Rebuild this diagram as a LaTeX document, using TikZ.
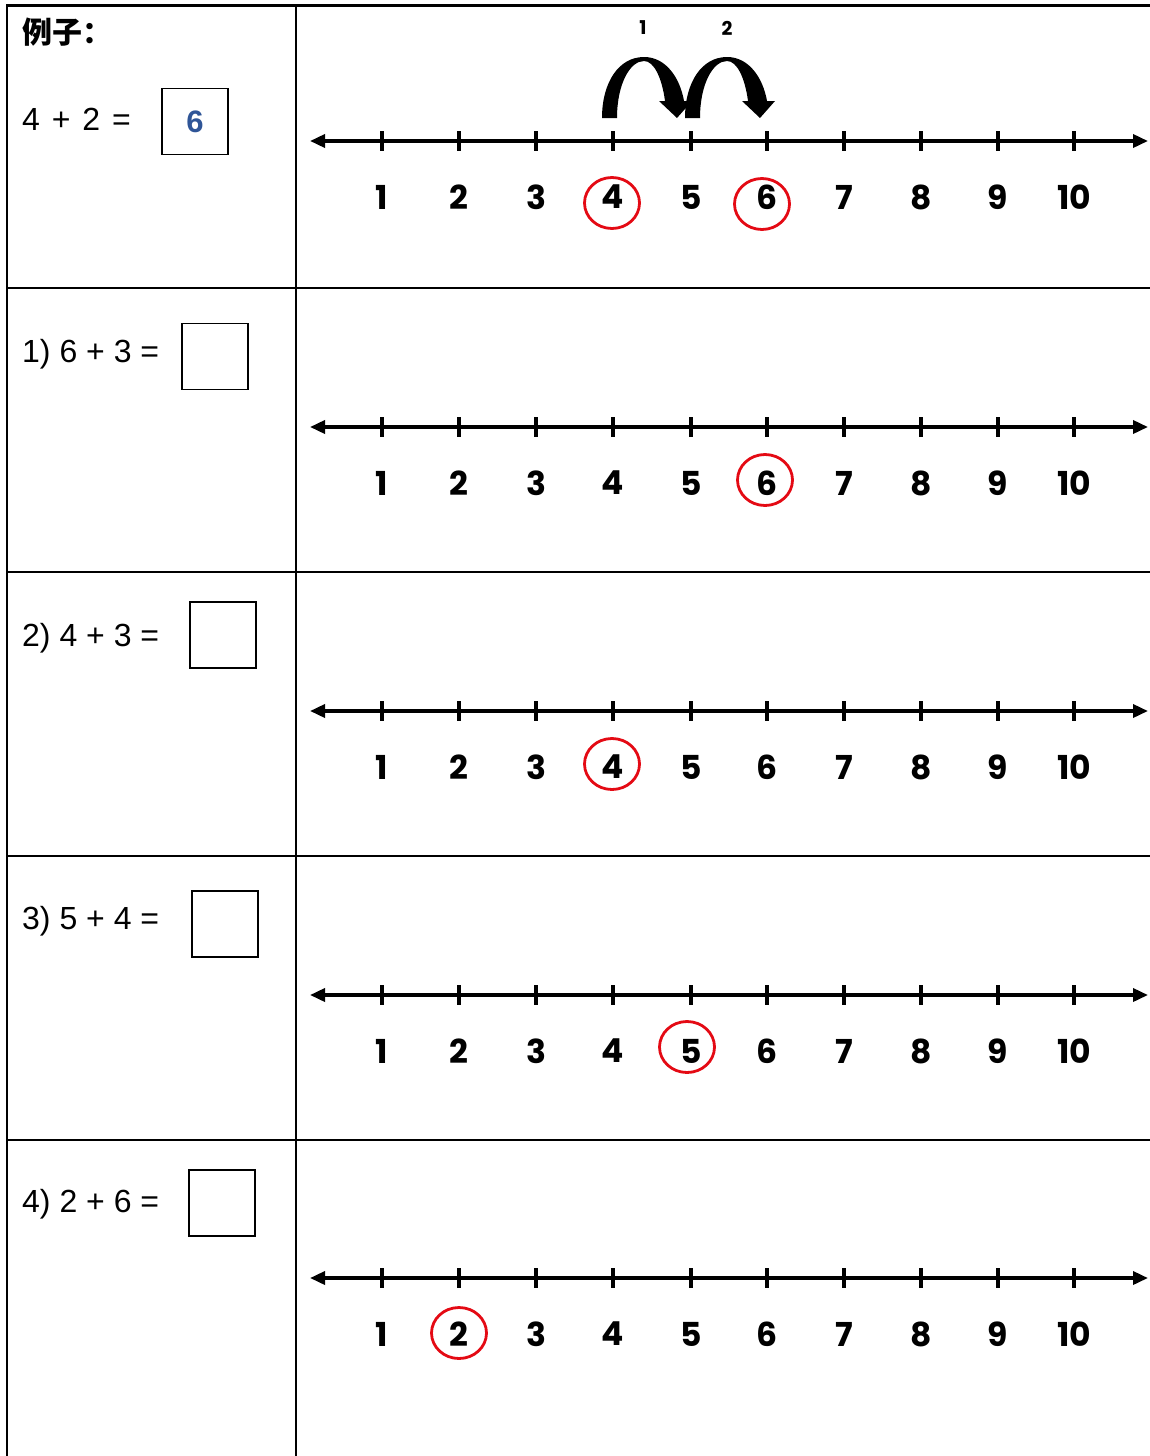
\documentclass[tikz,border=0pt]{standalone}
\usepackage{fontspec}
\setmainfont{Liberation Sans}
\newfontfamily\numfont{Poppins}
\newfontfamily\cjkfont{Noto Sans CJK SC}
\usetikzlibrary{arrows.meta,shapes.geometric}
\definecolor{ansblue}{RGB}{47,85,151}
\definecolor{ringred}{RGB}{228,10,20}
\tikzset{
  grid/.style={line width=2pt,black},
  topline/.style={line width=3pt,black},
  numline/.style={line width=3.5pt,black,{Triangle[length=15pt,width=13pt]}-{Triangle[length=15pt,width=13pt]}},
  tickmark/.style={line width=3.5pt,black},
  numlabel/.style={inner sep=0pt,font=\numfont\bfseries\fontsize{33}{36}\selectfont},
  ring/.style={ellipse,draw=ringred,line width=2.8pt,minimum width=55pt,minimum height=51pt,inner sep=0pt},
  ansbox/.style={draw,line width=1.5pt,minimum width=66pt,minimum height=66pt,inner sep=0pt},
  eqtext/.style={anchor=base west,inner sep=0pt,font=\fontsize{32}{36}\selectfont},
  jumplabel/.style={inner sep=0pt,font=\numfont\bfseries\fontsize{19}{22}\selectfont},
  jump/.style={fill=black,draw=none}
}
\begin{document}
\begin{tikzpicture}[x=1pt,y=-1pt]
\useasboundingbox (0,0) rectangle (1150,1456);
% table
\draw[topline] (7,5) -- (1150,5);
\foreach \yy in {288,572,856,1140} \draw[grid] (7,\yy) -- (1150,\yy);
\draw[grid] (7,4) -- (7,1456);
\draw[grid] (296,4) -- (296,1456);

% number lines
\foreach \r/\yy in {0/141,1/427,2/711,3/995,4/1278}{
  \coordinate (L\r) at (310,\yy);
  \coordinate (R\r) at (1148,\yy);
  \draw[numline] (L\r) -- (R\r);
  \foreach \i/\xx in {1/382,2/459,3/536,4/613,5/691,6/767,7/844,8/921,9/998,10/1074}{
    \coordinate (t\r a\i) at (\xx,\yy-10);
    \coordinate (t\r b\i) at (\xx,\yy+10);
    \draw[tickmark] (t\r a\i) -- (t\r b\i);
    \node[numlabel] (n\r x\i) at (\xx,\yy+56) {\i};
  }
}

% red rings
\node[ring] (c0a) at (612,203) {};
\node[ring] (c0b) at (762,204) {};
\node[ring] (c1) at (765,480) {};
\node[ring] (c2) at (612,764) {};
\node[ring] (c3) at (687,1047) {};
\node[ring] (c4) at (459,1333) {};

% jump arrows
\foreach \ox in {602,685}{
  \begin{scope}[shift={(\ox,118)}]
    \fill[jump] (0,0) .. controls (0,-36) and (17,-61) .. (42,-61)
      .. controls (64,-61) and (78,-40) .. (82,-17)
      -- (90,-17) -- (75,0) -- (57,-17) -- (63,-17)
      .. controls (60,-40) and (52,-57) .. (42,-57)
      .. controls (28,-57) and (15,-34) .. (15,0) -- cycle;
  \end{scope}
}
\node[jumplabel] (j1) at (643,28) {1};
\node[jumplabel] (j2) at (727,28) {2};

% left column
\node[anchor=base west,inner sep=0pt,font=\cjkfont\bfseries\fontsize{30}{34}\selectfont] (title) at (22,43) {例子：};
\node[eqtext] (e0) at (22,130) {4\hspace{3pt} + \hspace{3pt}2\hspace{3pt} =};
\node[ansbox,font=\bfseries\fontsize{31}{34}\selectfont,text=ansblue] (b0) at (195,121.5) {6};
\node[eqtext] (e1) at (22,362) {1) 6 + 3 =};
\node[ansbox] (b1) at (215,356.5) {};
\node[eqtext] (e2) at (22,646) {2) 4 + 3 =};
\node[ansbox] (b2) at (223,635) {};
\node[eqtext] (e3) at (22,929) {3) 5 + 4 =};
\node[ansbox] (b3) at (225,924) {};
\node[eqtext] (e4) at (22,1212) {4) 2 + 6 =};
\node[ansbox] (b4) at (222,1203) {};
\end{tikzpicture}
\end{document}
